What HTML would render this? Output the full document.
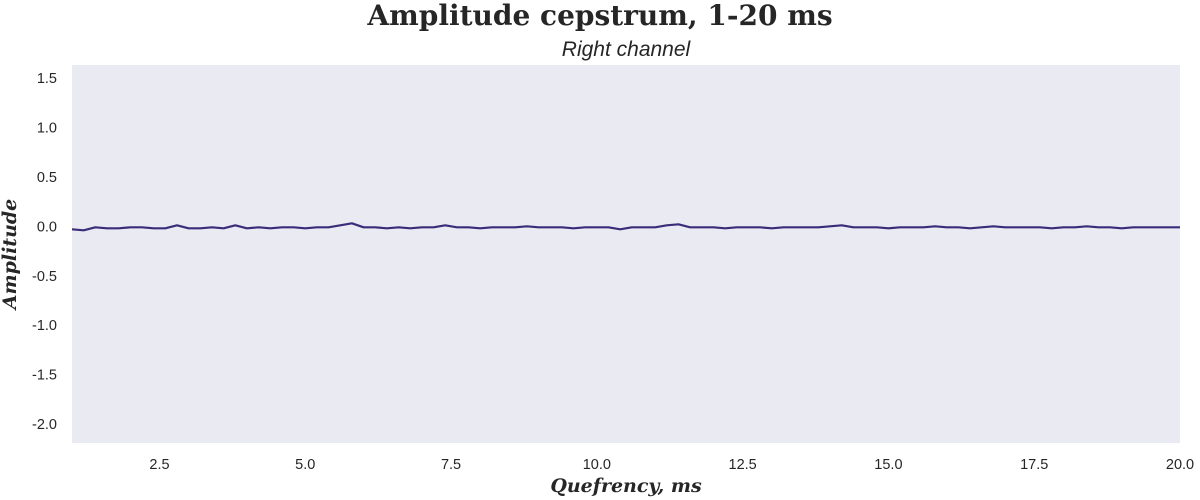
<!DOCTYPE html>
<html><head><meta charset="utf-8">
<style>
body{margin:0;background:#fff;}
svg{display:block;}
text{font-family:"Liberation Sans",sans-serif;fill:#262626;}
</style></head>
<body>
<svg id="chart" width="1200" height="500">
<text x="600" y="25" text-anchor="middle" style="font-family:'DejaVu Serif',serif;font-weight:bold;font-size:28px">Amplitude cepstrum, 1-20 ms</text>
<text x="626" y="56" text-anchor="middle" style="font-style:italic;font-size:21px">Right channel</text>
<rect x="72" y="65" width="1108" height="378" fill="#eaeaf2"></rect>
<g id="xticks"></g>
<g id="yticks"></g>
<path id="line" fill="none" stroke="#3b2c7a" stroke-width="2.2" stroke-linejoin="round"></path>
<text x="626" y="492" text-anchor="middle" style="font-family:'DejaVu Serif',serif;font-weight:bold;font-style:italic;font-size:19px">Quefrency, ms</text>
<text transform="translate(16,254) rotate(-90)" text-anchor="middle" style="font-family:'DejaVu Serif',serif;font-weight:bold;font-style:italic;font-size:19px">Amplitude</text>
</svg>
<script>
const xTicks=[2.5,5.0,7.5,10.0,12.5,15.0,17.5,20.0];
const yTicks=[1.5,1.0,0.5,0.0,-0.5,-1.0,-1.5,-2.0];
const xStart=1.0, xStep=0.2;
const values=[-0.03,-0.04,-0.01,-0.02,-0.02,-0.01,-0.01,-0.02,-0.02,0.01,
-0.02,-0.02,-0.01,-0.02,0.01,-0.02,-0.01,-0.02,-0.01,-0.01,
-0.02,-0.01,-0.01,0.01,0.03,-0.01,-0.01,-0.02,-0.01,-0.02,
-0.01,-0.01,0.01,-0.01,-0.01,-0.02,-0.01,-0.01,-0.01,0.00,
-0.01,-0.01,-0.01,-0.02,-0.01,-0.01,-0.01,-0.03,-0.01,-0.01,
-0.01,0.01,0.02,-0.01,-0.01,-0.01,-0.02,-0.01,-0.01,-0.01,
-0.02,-0.01,-0.01,-0.01,-0.01,0.00,0.01,-0.01,-0.01,-0.01,
-0.02,-0.01,-0.01,-0.01,0.00,-0.01,-0.01,-0.02,-0.01,0.00,
-0.01,-0.01,-0.01,-0.01,-0.02,-0.01,-0.01,0.00,-0.01,-0.01,
-0.02,-0.01,-0.01,-0.01,-0.01,-0.01];
const X0=72,X1=1180,XMIN=1,XMAX=20,Y0=443,Y1=65,YMIN=-2.19,YMAX=1.63;
function sx(v){return X0+(v-XMIN)/(XMAX-XMIN)*(X1-X0);}
function sy(v){return Y0-(v-YMIN)/(YMAX-YMIN)*(Y0-Y1);}
const ns="http://www.w3.org/2000/svg";
const xg=document.getElementById('xticks'),yg=document.getElementById('yticks');
xTicks.forEach(t=>{const e=document.createElementNS(ns,'text');
e.setAttribute('x',sx(t));e.setAttribute('y',469);e.setAttribute('text-anchor','middle');e.setAttribute('font-size','14.5');


e.textContent=t.toFixed(1);xg.appendChild(e);});
yTicks.forEach(t=>{const e=document.createElementNS(ns,'text');
e.setAttribute('x',57);e.setAttribute('y',sy(t)+5);e.setAttribute('text-anchor','end');e.setAttribute('font-size','14.5');


e.textContent=t.toFixed(1);
yg.appendChild(e);});
let d='';values.forEach((v,i)=>{const x=xStart+i*xStep;d+=(i?'L':'M')+sx(x).toFixed(1)+','+sy(v).toFixed(1);});
document.getElementById('line').setAttribute('d',d);
</script>
</body></html>
